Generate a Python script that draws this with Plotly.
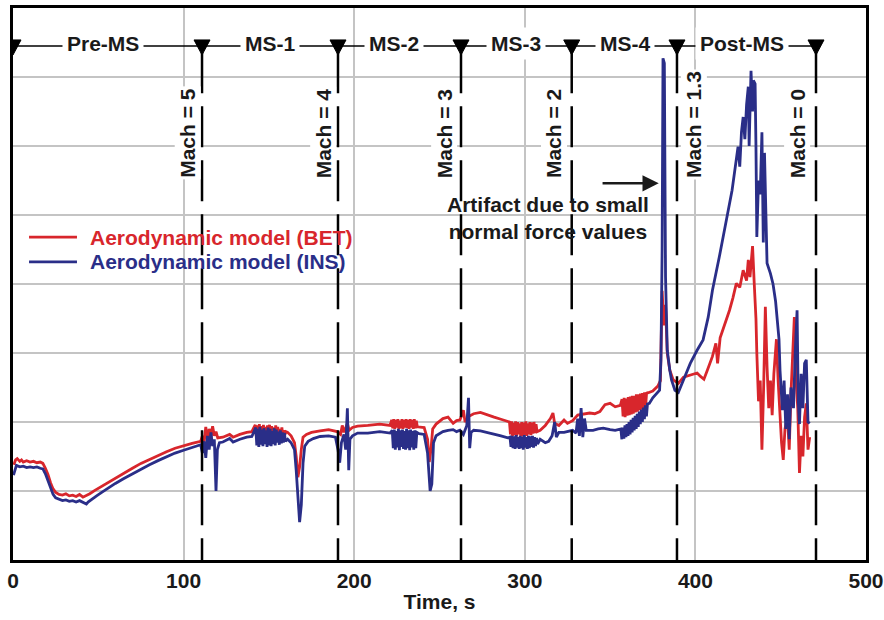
import plotly.graph_objects as go

# ---------------- data (time s, normalized value) ----------------
BET_POINTS = [
    (0.5, 1.38), (1.5, 1.45), (2.5, 1.47), (4, 1.43), (5, 1.45), (6, 1.42), (8, 1.44), (10, 1.42),
    (12, 1.43), (14, 1.41), (16, 1.42), (17.5, 1.40), (19, 1.33), (20.5, 1.24), (22, 1.12), (23.5, 1.03),
    (25, 0.98), (27, 0.95), (29, 0.94), (31, 0.96), (33, 0.93), (35, 0.94), (37, 0.92), (39, 0.95),
    (41, 0.91), (43, 0.93), (45, 0.96), (48, 1.01), (52, 1.07), (56, 1.13), (60, 1.19), (65, 1.26),
    (70, 1.33), (75, 1.40), (80, 1.46), (85, 1.52), (90, 1.57), (95, 1.62), (100, 1.66), (105, 1.69),
    (110, 1.72), (111, 1.80), (112, 1.70), (113, 1.93), (114, 1.75), (115, 1.90), (116, 1.78), (117, 1.94),
    (118, 1.80), (119, 1.86), (120, 1.77), (123, 1.78), (127, 1.82), (129, 1.78), (133, 1.82), (137, 1.85),
    (140, 1.86),
    (142.0, 1.96), (142.6, 1.80), (143.2, 1.95), (143.8, 1.79), (144.4, 1.97), (145.0, 1.81), (145.6, 1.94),
    (146.2, 1.78), (146.8, 1.96), (147.4, 1.80), (148.0, 1.93), (148.6, 1.79), (149.2, 1.95), (149.8, 1.82),
    (150.4, 1.96), (151.0, 1.78), (151.6, 1.94), (152.2, 1.80), (152.8, 1.92), (153.4, 1.79), (154.0, 1.95),
    (154.6, 1.81), (155.2, 1.93), (155.8, 1.78), (156.4, 1.90), (157.0, 1.80), (157.6, 1.92), (158.2, 1.79),
    (158.8, 1.88), (159.4, 1.82), (160.0, 1.86),
    (161, 1.85), (163, 1.80), (165, 1.70), (166, 1.50), (167, 1.20), (168, 1.35), (169, 1.60), (170, 1.78),
    (172, 1.82), (175, 1.85), (180, 1.87), (185, 1.89), (190, 1.86), (192, 1.82), (193, 1.95), (194, 1.85),
    (196, 1.98), (197, 1.88), (199, 1.92), (202, 1.94), (208, 1.95), (215, 1.97), (221, 1.95),
    (222.0, 2.03), (222.6, 1.91), (223.2, 2.04), (223.8, 1.90), (224.4, 2.03), (225.0, 1.92), (225.6, 2.04),
    (226.2, 1.90), (226.8, 2.02), (227.4, 1.91), (228.0, 2.04), (228.6, 1.90), (229.2, 2.03), (229.8, 1.92),
    (230.4, 2.04), (231.0, 1.91), (231.6, 2.03), (232.2, 1.90), (232.8, 2.04), (233.4, 1.92), (234.0, 2.03),
    (234.6, 1.90), (235.2, 2.04), (235.8, 1.91), (236.4, 2.02), (237.0, 1.93),
    (238, 1.93), (241, 1.92), (243, 1.75), (244, 1.42), (245, 1.60), (246, 1.90), (248, 1.97), (252, 2.05),
    (255, 2.07), (258, 1.98), (260, 2.02), (262, 2.03), (264, 2.17), (265, 2.00), (267, 2.08), (270, 2.12),
    (274, 2.14), (278, 2.10), (282, 2.07), (286, 2.04), (290, 2.00),
    (291.0, 2.00), (291.6, 1.82), (292.2, 2.01), (292.8, 1.80), (293.4, 1.99), (294.0, 1.81), (294.6, 2.01),
    (295.2, 1.79), (295.8, 2.00), (296.4, 1.82), (297.0, 1.98), (297.6, 1.80), (298.2, 2.00), (298.8, 1.79),
    (299.4, 1.99), (300.0, 1.81), (300.6, 2.01), (301.2, 1.80), (301.8, 1.98), (302.4, 1.82), (303.0, 2.00),
    (303.6, 1.81), (304.2, 1.99), (304.8, 1.83), (305.4, 2.00), (306.0, 1.84), (306.6, 1.97), (307.2, 1.86),
    (309, 1.88), (312, 1.95), (315, 2.05), (316.5, 2.13), (317.5, 1.98), (320, 1.95), (323, 2.03), (325, 1.98),
    (328, 2.02), (331, 2.10), (335, 2.12), (338, 2.13), (341, 2.12), (344, 2.15), (347, 2.25), (350, 2.27),
    (353, 2.22), (356, 2.24),
    (357.0, 2.33), (357.6, 2.08), (358.2, 2.35), (358.8, 2.07), (359.4, 2.34), (360.0, 2.09), (360.6, 2.36),
    (361.2, 2.10), (361.8, 2.37), (362.4, 2.11), (363.0, 2.38), (363.6, 2.12), (364.2, 2.38), (364.8, 2.14),
    (365.4, 2.40), (366.0, 2.15), (366.6, 2.40), (367.2, 2.17), (367.8, 2.41), (368.4, 2.18), (369.0, 2.42),
    (369.6, 2.20), (370.2, 2.43), (370.8, 2.22), (371.4, 2.43),
    (372, 2.42), (375, 2.45), (378, 2.52), (379.5, 2.60), (380.5, 3.90), (381.5, 3.40), (382.5, 3.70),
    (383.5, 3.00), (385, 2.75), (387, 2.61), (390, 2.56), (393, 2.65), (397, 2.68), (401, 2.71), (403, 2.66),
    (405, 2.62), (407, 2.75), (410, 2.95), (412, 3.14), (413, 2.85), (414.5, 3.22), (416, 3.33), (418, 3.45),
    (420, 3.62), (422, 3.80), (424, 4.01), (426, 3.95), (428, 4.20), (430, 4.05), (431, 4.35), (432, 4.10),
    (433.5, 4.55), (434.5, 4.00), (435.5, 3.50), (436, 3.00), (437, 2.30), (438, 2.60), (439, 1.60),
    (440, 2.50), (441, 3.67), (442, 2.80), (443, 2.20), (444, 2.60), (445, 2.10), (446, 2.70), (447.5, 3.20),
    (448.5, 2.60), (449.5, 2.07), (450.5, 1.70), (451.5, 1.45), (452.5, 1.90), (454, 2.07), (455, 1.60),
    (456, 2.40), (457, 2.90), (458, 3.52), (459, 2.60), (460, 2.20), (461, 1.26), (462, 1.80), (463, 1.50),
    (464, 2.07), (465, 2.27), (466, 1.60), (467, 1.78),
]

INS_POINTS = [
    (0.3, 1.23), (1, 1.30), (2, 1.37), (4, 1.35), (6, 1.36), (8, 1.34), (10, 1.35), (12, 1.34), (14, 1.35),
    (16, 1.33), (17.5, 1.32), (19, 1.25), (20.5, 1.15), (22, 1.03), (23.5, 0.95), (25, 0.90), (27, 0.88),
    (29, 0.86), (31, 0.87), (33, 0.85), (35, 0.86), (37, 0.84), (39, 0.86), (41, 0.83), (43, 0.81),
    (44, 0.84), (46, 0.88), (49, 0.93), (52, 0.98), (56, 1.05), (60, 1.11), (65, 1.18), (70, 1.25),
    (75, 1.32), (80, 1.38), (85, 1.44), (90, 1.50), (95, 1.55), (100, 1.59), (105, 1.63), (110, 1.67),
    (111, 1.55), (112, 1.72), (113, 1.48), (114, 1.80), (115, 1.60), (116, 1.85), (117, 1.65), (118, 1.75),
    (119, 1.00), (119.8, 1.60), (121, 1.70), (123, 1.71), (127, 1.76), (129, 1.71), (133, 1.75), (137, 1.78),
    (140, 1.79),
    (142.3, 1.92), (142.9, 1.66), (143.5, 1.90), (144.1, 1.64), (144.7, 1.93), (145.3, 1.67), (145.9, 1.89),
    (146.5, 1.65), (147.1, 1.91), (147.7, 1.68), (148.3, 1.88), (148.9, 1.64), (149.5, 1.92), (150.1, 1.66),
    (150.7, 1.90), (151.3, 1.65), (151.9, 1.87), (152.5, 1.68), (153.1, 1.91), (153.7, 1.66), (154.3, 1.89),
    (154.9, 1.70), (155.5, 1.86), (156.1, 1.67), (156.7, 1.88), (157.3, 1.69), (157.9, 1.85), (158.5, 1.70),
    (159.1, 1.84), (159.7, 1.72),
    (161, 1.75), (163, 1.70), (165, 1.60), (166, 1.30), (167, 0.90), (168, 0.55), (169, 0.80), (170, 1.40),
    (171, 1.65), (173, 1.72), (176, 1.76), (180, 1.79), (185, 1.80), (189, 1.78), (190.5, 1.60),
    (191.5, 1.41), (192.5, 1.70), (194, 1.82), (195, 1.60), (196, 2.20), (196.8, 1.30), (197.5, 1.75),
    (199, 1.80), (202, 1.84), (208, 1.84), (215, 1.86), (221, 1.84),
    (222.3, 1.88), (222.9, 1.62), (223.5, 1.89), (224.1, 1.60), (224.7, 1.87), (225.3, 1.63), (225.9, 1.90),
    (226.5, 1.59), (227.1, 1.88), (227.7, 1.64), (228.3, 1.89), (228.9, 1.61), (229.5, 1.87), (230.1, 1.60),
    (230.7, 1.90), (231.3, 1.62), (231.9, 1.88), (232.5, 1.59), (233.1, 1.89), (233.7, 1.63), (234.3, 1.87),
    (234.9, 1.60), (235.5, 1.88), (236.1, 1.62), (236.7, 1.85),
    (238, 1.83), (241, 1.82), (243, 1.55), (244.5, 1.00), (245.5, 1.10), (246.5, 1.70), (248, 1.80),
    (252, 1.86), (255, 1.88), (258, 1.89), (260, 1.86), (262, 1.88), (264, 1.82), (266, 1.95), (267, 2.35),
    (267.7, 1.62), (268.5, 1.85), (270, 1.88), (274, 1.87), (278, 1.85), (282, 1.83), (286, 1.80),
    (290, 1.77),
    (291.3, 1.78), (291.9, 1.64), (292.5, 1.80), (293.1, 1.62), (293.7, 1.79), (294.3, 1.61), (294.9, 1.81),
    (295.5, 1.63), (296.1, 1.78), (296.7, 1.61), (297.3, 1.80), (297.9, 1.62), (298.5, 1.79), (299.1, 1.60),
    (299.7, 1.81), (300.3, 1.63), (300.9, 1.78), (301.5, 1.61), (302.1, 1.80), (302.7, 1.62), (303.3, 1.79),
    (303.9, 1.64), (304.5, 1.80), (305.1, 1.63), (305.7, 1.78), (306.3, 1.65), (306.9, 1.77), (307.5, 1.68),
    (309, 1.75), (312, 1.70), (314, 1.72), (316, 1.80), (317.5, 2.00), (318.5, 1.78), (320, 1.85),
    (323, 1.85), (326, 1.87), (328, 1.88), (330, 1.84), (331, 2.05), (332, 1.80), (333, 2.20), (334, 1.78),
    (335, 2.05), (336, 1.88), (340, 1.88), (343, 1.90), (346, 1.91), (350, 1.89), (353, 1.88),
    (356.3, 1.90), (356.9, 1.75), (357.5, 1.92), (358.1, 1.76), (358.7, 1.95), (359.3, 1.78), (359.9, 1.97),
    (360.5, 1.80), (361.1, 2.00), (361.7, 1.82), (362.3, 2.03), (362.9, 1.85), (363.5, 2.06), (364.1, 1.88),
    (364.7, 2.09), (365.3, 1.90), (365.9, 2.12), (366.5, 1.93), (367.1, 2.15), (367.7, 1.97), (368.3, 2.18),
    (368.9, 2.00), (369.5, 2.21), (370.1, 2.04), (370.7, 2.24), (371.3, 2.08), (371.9, 2.26),
    (373, 2.27), (375, 2.35), (377.5, 2.42), (379, 2.46), (379.8, 2.90), (380.5, 4.50), (381, 7.27),
    (381.8, 7.20), (382.5, 4.10), (383.5, 3.04), (385, 2.75), (386, 2.61), (388, 2.46), (390, 2.43),
    (393, 2.61), (397, 2.85), (401, 3.04), (404.5, 3.19), (407.5, 3.52), (410, 3.91), (414, 4.39),
    (418.5, 4.97), (421.5, 5.36), (425, 5.99), (426, 5.70), (427, 6.20), (428, 6.42), (429, 6.10),
    (430, 6.60), (431, 6.86), (431.5, 6.00), (432.6, 7.09), (433.5, 6.50), (434, 6.95), (435, 6.90),
    (435.5, 6.00), (436, 4.68), (437, 5.50), (438, 5.30), (439, 6.20), (439.8, 4.60), (440.5, 5.90),
    (441.5, 4.50), (442, 4.30), (444, 4.15), (445.5, 4.00), (447, 3.75), (448, 3.52), (449, 3.20),
    (449.6, 2.75), (451, 2.17), (452, 2.60), (453, 1.90), (454, 2.40), (455, 1.75), (456, 2.50),
    (457.5, 2.20), (458.5, 3.00), (459.6, 3.62), (460.3, 2.30), (461, 1.97), (462, 2.70), (463, 2.20),
    (464, 2.85), (465, 2.90), (466, 2.00), (467, 1.98),
]

PHASE_BOUNDS = [0, 110.8, 190.5, 262.6, 327.5, 389.2, 470.7]
PHASE_NAMES = ["Pre-MS", "MS-1", "MS-2", "MS-3", "MS-4", "Post-MS"]
PHASE_LABEL_T = [53, 150.6, 223.5, 295, 358.5, 427.5]
MACH_LABELS = ["Mach = 5", "Mach = 4", "Mach = 3", "Mach = 2", "Mach = 1.3", "Mach = 0"]
MACH_LABEL_T = [102.6, 182, 252.6, 317, 399, 459.5]
X_TICKS = [0, 100, 200, 300, 400, 500]

RED = "#d8262c"
BLUE = "#2a2e88"
FONT = "Liberation Sans, Arial, Helvetica, sans-serif"
FS = 21

# ---------------- figure ----------------
fig = go.Figure()
fig.add_trace(go.Scatter(x=[p[0] for p in BET_POINTS], y=[p[1] for p in BET_POINTS],
                         mode="lines", name="Aerodynamic model (BET)",
                         line=dict(color=RED, width=2.8), showlegend=False))
fig.add_trace(go.Scatter(x=[p[0] for p in INS_POINTS], y=[p[1] for p in INS_POINTS],
                         mode="lines", name="Aerodynamic model (INS)",
                         line=dict(color=BLUE, width=2.8), showlegend=False))

shapes = []
annotations = []
PHASE_Y = 7.45
# horizontal phase line
shapes.append(dict(type="line", xref="x", yref="y", x0=PHASE_BOUNDS[0], x1=PHASE_BOUNDS[-1],
                   y0=PHASE_Y, y1=PHASE_Y, line=dict(color="black", width=1.5), layer="above"))
for i, b in enumerate(PHASE_BOUNDS):
    if i > 0:
        shapes.append(dict(type="line", xref="x", yref="y", x0=b, x1=b, y0=7.36, y1=0,
                           line=dict(color="black", width=2.5, dash="41px,13px"), layer="above"))
    shapes.append(dict(type="path", xref="x", yref="y", xsizemode="pixel", ysizemode="pixel",
                       xanchor=b, yanchor=PHASE_Y, path="M-8,6 L8,6 L0,-9 Z",
                       fillcolor="black", line=dict(color="black", width=1), layer="above"))

for name, t in zip(PHASE_NAMES, PHASE_LABEL_T):
    annotations.append(dict(x=t, y=7.48, xref="x", yref="y", text="<b>%s</b>" % name, showarrow=False,
                            font=dict(family=FONT, size=FS, color="#1a1a1a"), bgcolor="white",
                            borderpad=4))
for name, t in zip(MACH_LABELS, MACH_LABEL_T):
    annotations.append(dict(x=t, y=5.51, xref="x", yref="y", text="<b>%s</b>" % name, showarrow=False,
                            textangle=-90, yanchor="bottom", xanchor="center",
                            font=dict(family=FONT, size=FS, color="#1a1a1a"), bgcolor="white",
                            borderpad=1))

# legend drawn manually
for yv, col, label in [(4.68, RED, "Aerodynamic model (BET)"), (4.32, BLUE, "Aerodynamic model (INS)")]:
    shapes.append(dict(type="line", xref="x", yref="y", x0=9.4, x1=37.5, y0=yv, y1=yv,
                       line=dict(color=col, width=2.8), layer="above"))
    annotations.append(dict(x=44, y=yv, xref="x", yref="y", text="<b>%s</b>" % label, showarrow=False,
                            xanchor="left", yanchor="middle", font=dict(family=FONT, size=FS, color=col)))

# artifact note
annotations.append(dict(x=313.6, y=4.95, xref="x", yref="y",
                        text="<b>Artifact due to small<br>normal force values</b>", showarrow=False,
                        font=dict(family=FONT, size=FS, color="#1a1a1a"), align="center"))
annotations.append(dict(x=378.5, y=5.46, ax=344.7, ay=5.46, xref="x", yref="y", axref="x", ayref="y",
                        text="", showarrow=True, arrowhead=2, arrowsize=1.3, arrowwidth=2.5,
                        arrowcolor="#1a1a1a"))

fig.update_layout(
    width=884, height=620,
    margin=dict(l=13, r=18, t=8, b=60, autoexpand=False),
    paper_bgcolor="white", plot_bgcolor="white",
    shapes=shapes, annotations=annotations,
    font=dict(family=FONT, size=FS, color="#1a1a1a"),
)
fig.update_xaxes(range=[0, 500], tickvals=X_TICKS, ticktext=["<b>%d</b>" % v for v in X_TICKS],
                 showgrid=True, gridcolor="#c4c4c4", gridwidth=1.5, zeroline=False, automargin=False,
                 showline=True, linecolor="black", linewidth=3, mirror=True, ticks="",
                 tickfont=dict(family=FONT, size=FS, color="#1a1a1a"),
                 title=dict(text="<b>Time, s</b>", font=dict(family=FONT, size=FS, color="#1a1a1a"),
                            standoff=4))
fig.update_yaxes(range=[0, 8], dtick=1, showticklabels=False, showgrid=True, gridcolor="#c4c4c4",
                 gridwidth=1.5, zeroline=False, showline=True, linecolor="black", linewidth=3,
                 mirror=True, ticks="", automargin=False)

fig.write_html("out.html")
